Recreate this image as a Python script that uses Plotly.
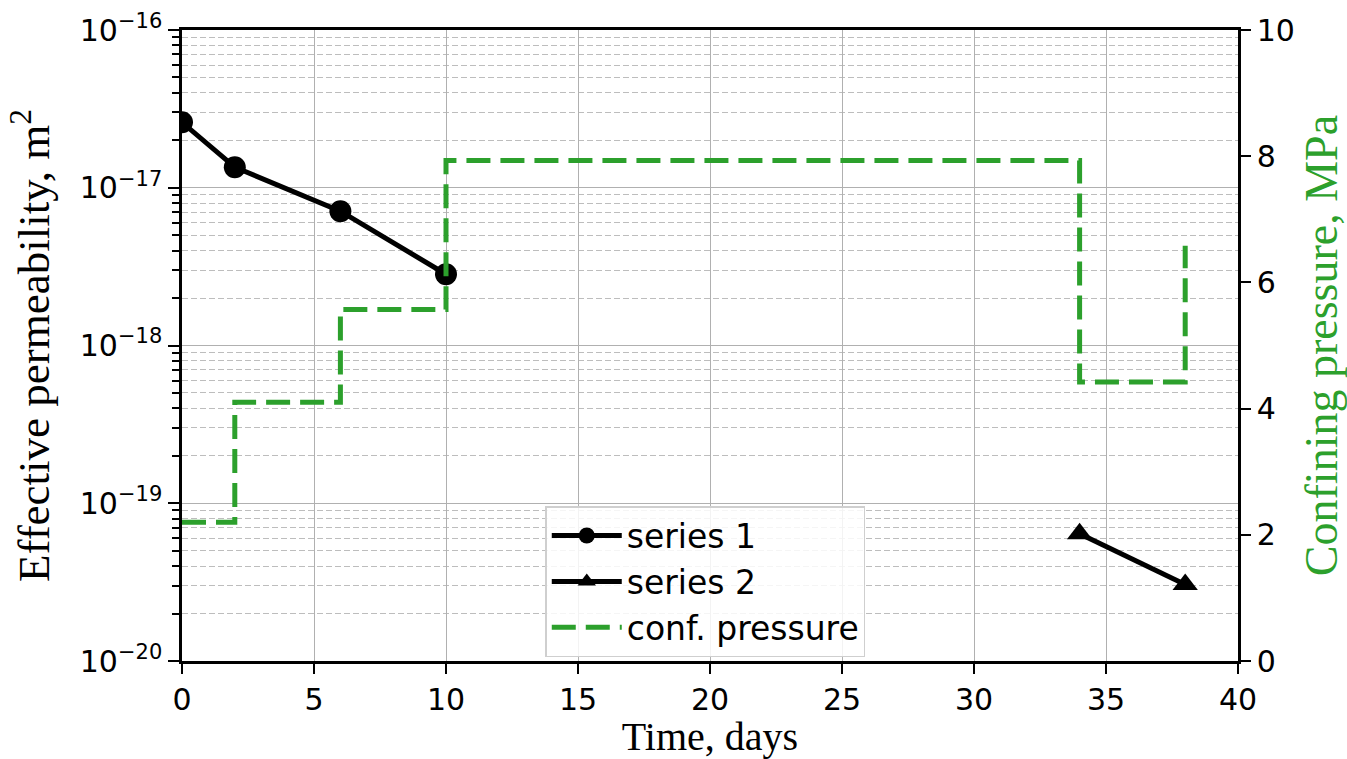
import plotly.graph_objects as go

# ---- data ----
s1_days = [0, 2, 6, 10]
s1_perm = [2.6e-17, 1.35e-17, 7.1e-18, 2.83e-18]
s2_days = [34, 38]
s2_perm = [6.4e-20, 3.05e-20]
p_days = [0, 2, 6, 10, 34, 38]
p_mpa = [2.2, 4.1, 5.57, 7.93, 4.42, 6.58]

x_ticks = [0, 5, 10, 15, 20, 25, 30, 35, 40]
y_decades = [1e-20, 1e-19, 1e-18, 1e-17, 1e-16]
y_ticktext = ["10<sup>\u221220</sup>", "10<sup>\u221219</sup>", "10<sup>\u221218</sup>",
              "10<sup>\u221217</sup>", "10<sup>\u221216</sup>"]
y2_ticks = [0, 2, 4, 6, 8, 10]
minor_vals = [m * d for d in y_decades[:-1] for m in range(2, 10)]

GREEN = "#2ca02c"
serif = "Liberation Serif, Times New Roman, serif"
sans = "DejaVu Sans, sans-serif"

fig = go.Figure()
fig.add_trace(go.Scatter(
    x=s1_days, y=s1_perm, name="series 1", mode="lines+markers",
    line=dict(color="black", width=5),
    marker=dict(symbol="circle", size=22, color="black"),
    yaxis="y"))
fig.add_trace(go.Scatter(
    x=s2_days, y=s2_perm, name="series 2", mode="lines+markers",
    line=dict(color="black", width=5),
    marker=dict(symbol="triangle-up", size=22, color="black"),
    yaxis="y"))
fig.add_trace(go.Scatter(
    x=p_days, y=p_mpa, name="conf. pressure", mode="lines",
    line=dict(color=GREEN, width=5, dash="24px,10px", shape="hv"),
    yaxis="y2"))

fig.update_layout(
    width=1347, height=759, autosize=False,
    margin=dict(l=182, r=109, t=30, b=98),
    plot_bgcolor="white", paper_bgcolor="white",
    font=dict(family=sans, size=30, color="black"),
    showlegend=True,
    legend=dict(x=0.344, y=0.2456, xanchor="left", yanchor="top",
                bgcolor="rgba(255,255,255,0.85)", bordercolor="#cfcfcf",
                borderwidth=1.5, font=dict(family=sans, size=33),
                itemwidth=70),
    xaxis=dict(
        range=[0, 40], tickvals=x_ticks, showgrid=True, gridcolor="#b0b0b0",
        gridwidth=1, zeroline=False, showline=True, linecolor="black",
        linewidth=2.5, mirror=True, ticks="outside", ticklen=10, tickwidth=2,
        tickcolor="black", automargin=False, tickfont=dict(size=30),
        title=dict(text="Time, days", font=dict(family=serif, size=40), standoff=8),
    ),
    yaxis=dict(
        type="log", range=[-20, -16], tickvals=y_decades, ticktext=y_ticktext,
        showgrid=True, gridcolor="#b0b0b0", gridwidth=1, zeroline=False,
        showline=True, linecolor="black", linewidth=2.5, ticks="outside",
        ticklen=11, tickwidth=2, tickcolor="black", automargin=False,
        tickfont=dict(size=30),
        minor=dict(tickvals=minor_vals, ticks="outside", ticklen=7, tickwidth=1.5,
                   tickcolor="black", showgrid=True, gridcolor="#bdbdbd",
                   griddash="6px,3px", gridwidth=1),
        title=dict(text="Effective permeability, m<sup>2</sup>",
                   font=dict(family=serif, size=45), standoff=16),
    ),
    yaxis2=dict(
        overlaying="y", side="right", range=[0, 10], tickvals=y2_ticks,
        showgrid=False, zeroline=False, showline=True, linecolor="black",
        linewidth=2.5, ticks="outside", ticklen=10, tickwidth=2, tickcolor="black",
        automargin=False, tickfont=dict(size=30),
        title=dict(text="Confining pressure, MPa",
                   font=dict(family=serif, size=46, color=GREEN), standoff=14),
    ),
)

fig.write_html("out.html")
